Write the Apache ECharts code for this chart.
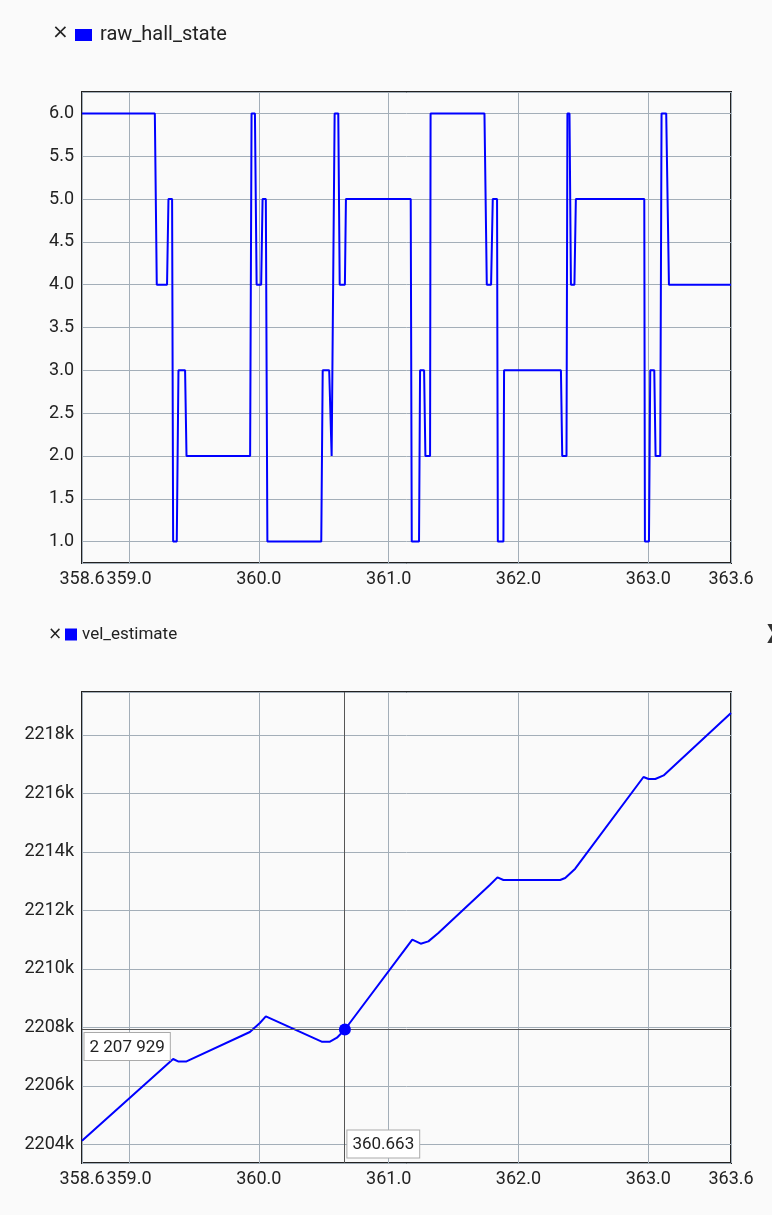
<!DOCTYPE html>
<html><head><meta charset="utf-8">
<script src="https://cdn.jsdelivr.net/npm/echarts@6/dist/echarts.min.js"></script>
<style>html,body{margin:0;padding:0;background:#fafafa}#c{width:772px;height:1215px}</style>
</head><body><div id="c"></div>
<script>
// ---- data ----
const hallTime = [358.638, 359.199, 359.214, 359.293, 359.304, 359.332, 359.340, 359.368, 359.381, 359.432,
  359.443, 359.933, 359.944, 359.970, 359.983, 360.018, 360.029, 360.054, 360.066, 360.481,
  360.492, 360.542, 360.561, 360.584, 360.612, 360.623, 360.663, 360.671, 361.170, 361.178,
  361.234, 361.242, 361.273, 361.283, 361.319, 361.323, 361.738, 361.756, 361.789, 361.802,
  361.835, 361.841, 361.884, 361.889, 362.327, 362.337, 362.370, 362.377, 362.393, 362.404,
  362.431, 362.442, 362.969, 362.974, 363.005, 363.015, 363.046, 363.056, 363.092, 363.102,
  363.138, 363.159, 363.637];
const hallState = [6,6,4,4,5,5,1,1,3,3,2,2, 6,6,4,4,5,5,1,1,3,3,2, 6,6,4,4,5,5,1,1,3,3,2,2,
  6,6,4,4,5,5,1,1,3,3,2,2, 6,6,4,4,5,5,1,1,3,3,2,2, 6,6,4,4];
const velTime = [358.638, 359.340, 359.378, 359.443, 359.931, 360.008, 360.054, 360.484, 360.548, 360.602,
  360.663, 361.182, 361.247, 361.306, 361.383, 361.781, 361.838, 361.884, 362.321, 362.360,
  362.437, 362.963, 363.002, 363.054, 363.118, 363.637];
const velValue = [2204127, 2206920, 2206838, 2206838, 2207844, 2208152, 2208377, 2207512, 2207512, 2207649,
  2207929, 2211000, 2210863, 2210942, 2211229, 2212881, 2213130, 2213042, 2213042, 2213110,
  2213428, 2216564, 2216495, 2216495, 2216618, 2218752];
const xMin = 358.638, xMax = 363.637;
const hallYMin = 0.75, hallYMax = 6.25;
const velYMin = 2203364, velYMax = 2219470;
const cursorTime = 360.663, cursorValue = 2207929;
const seriesNames = ['raw_hall_state', 'vel_estimate'];

// ---- chart ----
const blue = '#0000ff';
const txt = '#222';
const axisFont = {fontFamily: 'Roboto', fontSize: 18, color: txt};
const gridLine = {show: true, lineStyle: {color: '#a3aeb8', width: 1}};
const fmtSpace = v => String(v).replace(/\B(?=(\d{3})+(?!\d))/g, ' ');
const boxLabel = {fontFamily: 'Roboto', fontSize: 17, color: txt, backgroundColor: '#ffffff',
  borderColor: '#aaaaaa', borderWidth: 1, padding: [6, 5, 4, 5]};

function xAxis(gi) {
  return {type: 'value', gridIndex: gi, min: xMin, max: xMax, splitNumber: 5,
    axisLine: {show: false}, axisTick: {show: false}, splitLine: gridLine,
    axisLabel: Object.assign({}, axisFont, {margin: 7, showMinLabel: true, showMaxLabel: true,
      formatter: v => v.toFixed(1)})};
}

const chart = echarts.init(document.getElementById('c'));
chart.setOption({
  backgroundColor: '#fafafa',
  animation: false,
  title: [
    {text: '×', left: 47, top: 18, textStyle: {fontFamily: 'DejaVu Sans', fontSize: 20, fontWeight: 'normal', color: txt}},
    {text: '×', left: 43, top: 621, textStyle: {fontFamily: 'DejaVu Sans', fontSize: 17, fontWeight: 'normal', color: txt}},
    {text: 'X', left: 762, top: 618, textStyle: {fontFamily: 'Roboto', fontSize: 26, fontWeight: 'bold', color: '#333'}}
  ],
  legend: [
    {data: [seriesNames[0]], left: 70, top: 20, icon: 'rect', itemWidth: 17, itemHeight: 12,
      selectedMode: false, textStyle: {fontFamily: 'Roboto', fontSize: 20, color: txt, padding: [0, 0, 0, 3]}},
    {data: [seriesNames[1]], left: 60, top: 621, icon: 'rect', itemWidth: 12, itemHeight: 12, itemGap: 4,
      selectedMode: false, textStyle: {fontFamily: 'Roboto', fontSize: 17, color: txt}}
  ],
  grid: [
    {left: 82, right: 41, top: 92, height: 471, show: true, borderColor: '#222', borderWidth: 2, backgroundColor: 'transparent'},
    {left: 82, right: 41, top: 692, height: 471, show: true, borderColor: '#222', borderWidth: 2, backgroundColor: 'transparent'}
  ],
  xAxis: [xAxis(0), xAxis(1)],
  yAxis: [
    {type: 'value', gridIndex: 0, min: hallYMin, max: hallYMax, splitNumber: 11,
      axisLine: {show: false}, axisTick: {show: false}, splitLine: gridLine,
      axisLabel: Object.assign({}, axisFont, {margin: 8, showMinLabel: false, showMaxLabel: false,
        formatter: v => v.toFixed(1)})},
    {type: 'value', gridIndex: 1, min: velYMin, max: velYMax, splitNumber: 8,
      axisLine: {show: false}, axisTick: {show: false}, splitLine: gridLine,
      axisLabel: Object.assign({}, axisFont, {margin: 8, showMinLabel: false, showMaxLabel: false,
        formatter: v => Math.round(v / 1000) + 'k'})}
  ],
  series: [
    {name: seriesNames[0], type: 'line', xAxisIndex: 0, yAxisIndex: 0,
      data: hallTime.map((t, i) => [t, hallState[i]]),
      showSymbol: false, symbol: 'none', lineStyle: {color: blue, width: 2}, itemStyle: {color: blue}},
    {name: seriesNames[1], type: 'line', xAxisIndex: 1, yAxisIndex: 1,
      data: velTime.map((t, i) => [t, velValue[i]]),
      showSymbol: false, symbol: 'none', lineStyle: {color: blue, width: 2}, itemStyle: {color: blue},
      markLine: {silent: true, symbol: ['none', 'none'], label: {show: false},
        lineStyle: {color: '#555', width: 1, type: 'solid'},
        data: [{xAxis: cursorTime}, {yAxis: cursorValue}]},
      markPoint: {silent: true, data: [
        {coord: [cursorTime, cursorValue], symbol: 'circle', symbolSize: 12, itemStyle: {color: blue}, label: {show: false}},
        {coord: [xMin, cursorValue], symbol: 'rect', symbolSize: 1, itemStyle: {color: 'rgba(0,0,0,0)'},
          label: Object.assign({show: true, formatter: fmtSpace(cursorValue), position: [3, 4], align: 'left', verticalAlign: 'top'}, boxLabel)},
        {coord: [cursorTime, velYMin], symbol: 'rect', symbolSize: 1, itemStyle: {color: 'rgba(0,0,0,0)'},
          label: Object.assign({show: true, formatter: cursorTime.toFixed(3), position: [3, -5], align: 'left', verticalAlign: 'bottom'}, boxLabel)}
      ]}}
  ]
});
</script></body></html>
